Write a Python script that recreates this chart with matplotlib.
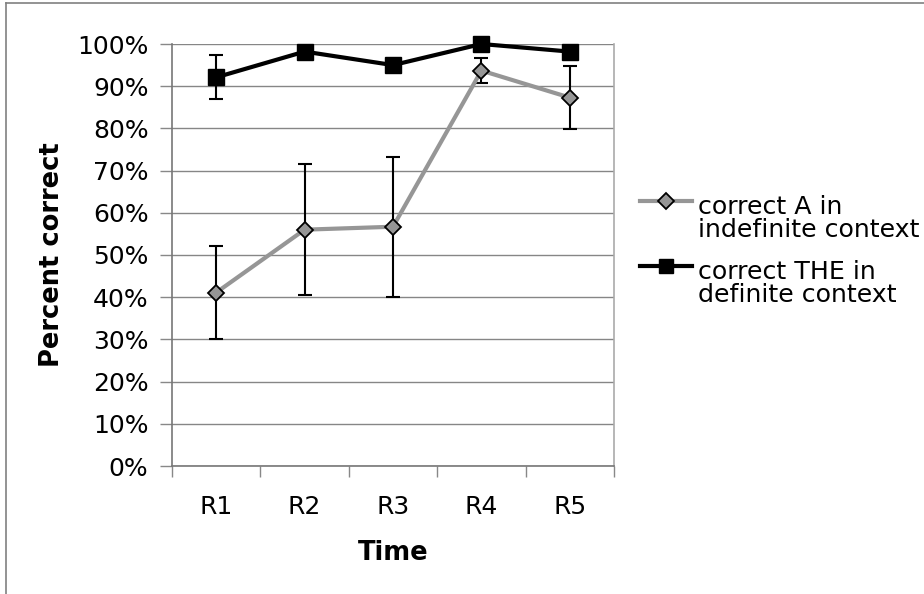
import matplotlib
matplotlib.use("Agg")
import matplotlib.pyplot as plt
from matplotlib.lines import Line2D
import numpy as np

categories = ["R1", "R2", "R3", "R4", "R5"]
a_indef = [41.1, 56.0, 56.7, 93.7, 87.3]
a_indef_err = [11.0, 15.5, 16.6, 3.0, 7.5]
the_def = [92.1, 98.2, 95.0, 100.0, 98.2]
the_def_err = [5.2, 0.0, 0.0, 0.0, 0.0]
yticks = list(range(0, 101, 10))
series_labels = ["correct A in\nindefinite context", "correct THE in\ndefinite context"]

plt.rcParams['font.family'] = ['DejaVu Sans']

W, H = 924, 594
fig = plt.figure(figsize=(W/100, H/100), dpi=100)
ax = fig.add_axes([172/W, 1-466/H, (614-172)/W, (466-44)/H])

x = np.arange(len(categories))

ax.errorbar(x, a_indef, yerr=a_indef_err, fmt='none', ecolor='black',
            elinewidth=1.5, capsize=5, capthick=1.5, zorder=3, clip_on=False)
ax.errorbar(x, the_def, yerr=the_def_err, fmt='none', ecolor='black',
            elinewidth=1.5, capsize=5, capthick=1.5, zorder=3, clip_on=False)
ax.plot(x, a_indef, color='#969696', lw=3, marker='D', markersize=8.5,
        markerfacecolor='#969696', markeredgecolor='black', markeredgewidth=1.3,
        zorder=4, clip_on=False)
ax.plot(x, the_def, color='black', lw=3, marker='s', markersize=12,
        markerfacecolor='black', markeredgecolor='black', zorder=5, clip_on=False)

ax.set_xlim(-0.5, len(categories) - 0.5)
ax.set_ylim(0, 100)
ax.set_yticks(yticks)
ax.set_yticklabels([f"{v}%" for v in yticks], fontsize=18)
ax.set_xticks(x)
ax.set_xticklabels(categories, fontsize=18)
ax.tick_params(axis='x', length=0, pad=21)
ax.set_xticks(np.arange(-0.5, len(categories), 1), minor=True)
ax.tick_params(axis='x', which='minor', length=8, color='#888888', width=1, direction='out')
ax.tick_params(axis='y', length=9, color='#888888', width=1, direction='out', pad=8)
ax.grid(axis='y', color='#868686', lw=1)
ax.set_axisbelow(True)
for s in ['left', 'bottom']:
    ax.spines[s].set_color('#777777')
    ax.spines[s].set_linewidth(1.2)
ax.spines['top'].set_visible(False)
ax.spines['right'].set_color('#aaaaaa')
ax.spines['right'].set_linewidth(1.2)

ax.set_ylabel("Percent correct", fontsize=18.5, fontweight='bold', labelpad=9)
ax.set_xlabel("Time", fontsize=18.5, fontweight='bold', labelpad=15)

# legend drawn manually (handle aligned with first text line, as in the original)
leg_line = [dict(color='#969696', lw=3), dict(color='black', lw=3)]
leg_mark = [
    dict(marker='D', markersize=8, markerfacecolor='#969696',
         markeredgecolor='black', markeredgewidth=1.3),
    dict(marker='s', markersize=10, markerfacecolor='black', markeredgecolor='black'),
]
leg_y = [201, 266]
for lab, ln, mk, yy in zip(series_labels, leg_line, leg_mark, leg_y):
    fy = 1 - yy/H
    fig.add_artist(Line2D([640/W, 692/W], [fy, fy], transform=fig.transFigure, **ln))
    fig.add_artist(Line2D([666/W], [fy], transform=fig.transFigure,
                          linestyle='none', **mk))
    fig.text(698/W, 1 - (yy - 6)/H, lab, fontsize=18.2, va='top', ha='left',
             linespacing=0.95)

# chart border (left and top visible)
fig.add_artist(Line2D([6/W, 6/W], [0, 1-3/H], transform=fig.transFigure,
                      color='#808080', lw=1.2))
fig.add_artist(Line2D([6/W, 1], [1-3/H, 1-3/H], transform=fig.transFigure,
                      color='#808080', lw=1.2))

fig.savefig("out.png", dpi=100)
